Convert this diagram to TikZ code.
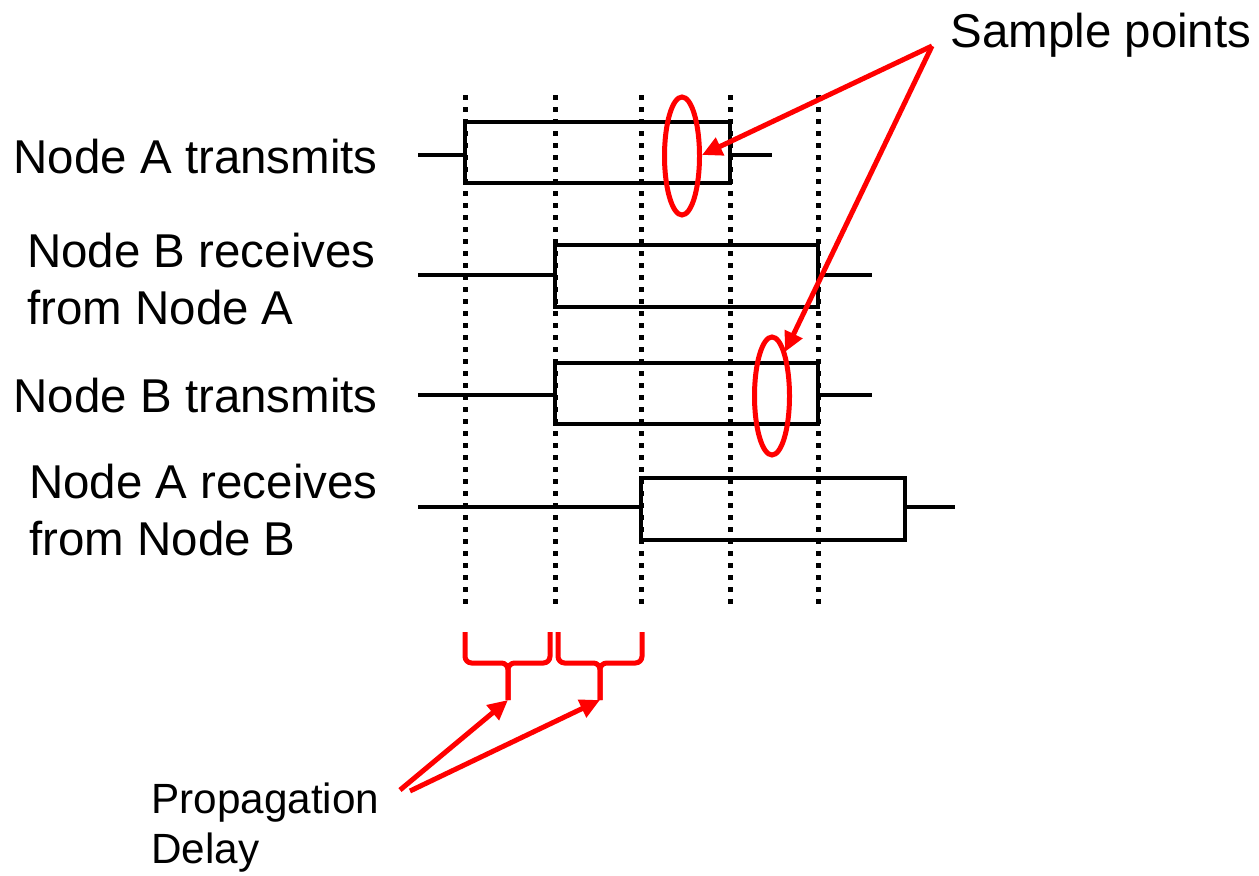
\documentclass[tikz,border=0pt]{standalone}
\usepackage{fontspec}
\setmainfont{Liberation Sans}
\usetikzlibrary{shapes.geometric,arrows.meta}
\begin{document}
\begin{tikzpicture}[x=0.75pt,y=-0.75pt,
  sig/.style={line width=3pt,line cap=rect},
  dots/.style={line width=3.75pt,dash pattern=on 3.75pt off 5.25pt},
  redline/.style={draw=red,line width=3.75pt},
  redarrow/.style={redline,-{Triangle[length=15pt,width=14pt]}},
  brace/.style={redline,rounded corners=5pt},
  lbl/.style={font=\fontsize{35.6}{43}\selectfont,inner sep=0pt},
  plbl/.style={font=\fontsize{31.7}{37.5}\selectfont,inner sep=0pt,align=left},
  samp/.style={ellipse,draw=red,line width=3.75pt,inner sep=0pt,outer sep=0pt,minimum width=26.25pt,minimum height=88.5pt}
]
\useasboundingbox (0,0) rectangle (1259,875);

% labels
\node[lbl,anchor=east] (la) at (378,157) {Node A transmits};
\node[lbl,anchor=west,align=left] (lb) at (27,279) {Node B receives\\from Node A};
\node[lbl,anchor=east] (lc) at (378,396) {Node B transmits};
\node[lbl,anchor=west,align=left] (ld) at (29,510) {Node A receives\\from Node B};
\node[lbl] (sp) at (1101,35) {Sample points};
\node[plbl,anchor=west] (pd) at (151,828) {Propagation\\Delay};

% dotted time lines
\foreach \x in {465,555,641,730,818}
  \draw[dots] (\x,95) -- (\x,610);

% signals
\draw[sig] (420,155) -- (465,155);
\draw[sig] (465,122) rectangle (730,183);
\draw[sig] (730,155) -- (770,155);

\draw[sig] (420,275) -- (555,275);
\draw[sig] (555,245) rectangle (818,307);
\draw[sig] (818,275) -- (870,275);

\draw[sig] (420,395) -- (555,395);
\draw[sig] (555,363) rectangle (818,424);
\draw[sig] (818,395) -- (870,395);

\draw[sig] (420,507) -- (641,507);
\draw[sig] (641,478) rectangle (905,540);
\draw[sig] (905,507) -- (953,507);

% sample point ellipses
\node[samp] (e1) at (682,156) {};
\node[samp] (e2) at (772,396) {};

\coordinate (spa) at (932,46);
\coordinate (t1) at (702,155);
\coordinate (t2) at (785,352);
\draw[redarrow] (spa) -- (t1);
\draw[redarrow] (spa) -- (t2);

% braces
\coordinate (b1) at (508,700);
\coordinate (b2) at (600,700);
\draw[brace] (465,632) -- (465,663) -- (508,663) -- (b1);
\draw[brace] (b1) -- (508,663) -- (550,663) -- (550,632);
\draw[brace] (558,632) -- (558,663) -- (600,663) -- (b2);
\draw[brace] (b2) -- (600,663) -- (642,663) -- (642,632);

\coordinate (p1) at (400,790);
\coordinate (p2) at (410,791);
\draw[redarrow] (p1) -- (b1);
\draw[redarrow] (p2) -- (b2);
\end{tikzpicture}
\end{document}
